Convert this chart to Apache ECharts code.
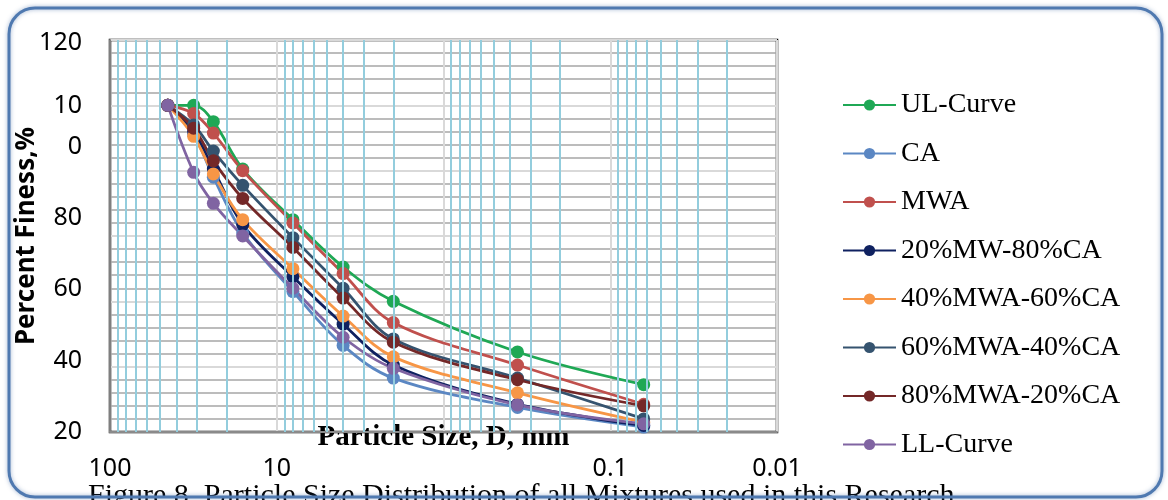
<!DOCTYPE html>
<html>
<head>
<meta charset="utf-8">
<script src="https://cdn.jsdelivr.net/npm/echarts@6/dist/echarts.min.js"></script>
<style>html,body{margin:0;padding:0;background:#fff}#c{width:1168px;height:500px}</style>
</head>
<body>
<div id="c"></div>
<script>
// ---- data ----
const sieveSizes = [45, 31.5, 24, 16, 8, 4, 2, 0.36, 0.063];
const ulCurve = [100, 100, 95, 80.5, 65, 50.5, 40, 24.5, 14.5];
const caValues = [100, 91, 78, 61, 43, 26.5, 16.5, 7.5, 1.5];
const mwaValues = [100, 97.5, 91.5, 80, 64, 48.5, 33.5, 20.5, 8.5];
const mix20 = [100, 92, 80.5, 63.5, 47.5, 33, 20.5, 8.5, 2];
const mix40 = [100, 90.5, 79, 65, 50, 35.5, 23, 12, 3];
const mix60 = [100, 94, 86, 75.5, 59.5, 44, 28.5, 16.5, 4];
const mix80 = [100, 93, 83, 71.5, 56.5, 41, 27.5, 16, 8];
const llCurve = [100, 79.5, 70, 60, 44, 29, 19.5, 8.3, 2.5];
const seriesNames = ['UL-Curve', 'CA', 'MWA', '20%MW-80%CA', '40%MWA-60%CA', '60%MWA-40%CA', '80%MWA-20%CA', 'LL-Curve'];
const xTickValues = [100, 10, 1, 0.1, 0.01];
const xTickLabels = ['100', '10', '', '0.1', '0.01'];
const yTickValues = [20, 40, 60, 80, 100, 120];
const yTickLabels = ['20', '40', '60', '80', '10\n0', '120'];
const minorGridX = [90, 80, 70, 60, 50, 40, 30, 20, 9, 8, 7, 6, 5, 4, 3, 2, 0.9, 0.8, 0.7, 0.6, 0.5, 0.4, 0.3, 0.2, 0.09, 0.08, 0.07, 0.06, 0.05, 0.04, 0.03, 0.02];
const caption = 'Figure 8. Particle Size Distribution of all Mixtures used in this Research';

// ---- styles ----
const colors = ['#1fa855', '#5b87c3', '#c0504d', '#0f2160', '#f79646', '#35536f', '#742828', '#8064a2'];
const allValues = [ulCurve, caValues, mwaValues, mix20, mix40, mix60, mix80, llCurve];

const chart = echarts.init(document.getElementById('c'));

const dataSeries = seriesNames.map((name, k) => ({
  name: name,
  type: 'line',
  xAxisIndex: 0,
  yAxisIndex: 0,
  smooth: 0.35,
  symbol: 'circle',
  symbolSize: 13,
  z: 3,
  color: colors[k],
  lineStyle: { width: 2.8, color: colors[k] },
  itemStyle: { color: colors[k] },
  data: sieveSizes.map((s, i) => [s, allValues[k][i]])
}));

const gridSeries = {
  name: 'minorGrid',
  type: 'line',
  xAxisIndex: 0,
  yAxisIndex: 0,
  data: [],
  z: 1,
  silent: true,
  markLine: {
    silent: true,
    symbol: ['none', 'none'],
    label: { show: false },
    animation: false,
    lineStyle: { color: '#93cddd', width: 2, type: 'solid' },
    emphasis: { disabled: true },
    data: minorGridX.map(v => ({ xAxis: v }))
  }
};

function xLabel(v) {
  const i = xTickValues.findIndex(t => Math.abs(Math.log10(t) - Math.log10(v)) < 1e-6);
  return i >= 0 ? xTickLabels[i] : '';
}
function yLabel(v) {
  const i = yTickValues.findIndex(t => Math.abs(t - v) < 1e-6);
  if (i < 0) return '';
  const t = yTickLabels[i];
  if (v === 120) return '{hi|' + t + '}\n{hi| }';
  if (t.indexOf('\n') >= 0) return t.split('\n').map(s => '{mid|' + s + '}').join('\n') + '\n{mid| }';
  return '{n|' + t + '}';
}

const option = {
  animation: false,
  backgroundColor: '#ffffff',
  grid: {
    left: 110, right: 391, top: 40, bottom: 68,
    containLabel: false,
    outerBoundsMode: 'none',
    show: true, borderColor: '#000000', borderWidth: 2.5, backgroundColor: 'transparent'
  },
  legend: {
    orient: 'vertical',
    left: 837,
    top: 85,
    itemWidth: 53,
    itemHeight: 14,
    itemGap: 18.5,
    data: seriesNames,
    textStyle: { fontFamily: 'Liberation Serif', fontSize: 28, color: '#000', lineHeight: 30 }
  },
  xAxis: [{
    type: 'log',
    logBase: 10,
    min: 0.01,
    max: 100,
    inverse: true,
    name: 'Particle Size, D, mm',
    nameLocation: 'middle',
    nameGap: -9,
    nameMoveOverlap: false,
    nameTextStyle: { fontFamily: 'Liberation Serif', fontWeight: 'bold', fontSize: 29, color: '#000' },
    axisLine: { show: true, lineStyle: { color: '#8a8a8a', width: 2 } },
    axisTick: { show: false },
    axisLabel: { formatter: xLabel, fontFamily: 'Noto Sans', fontSize: 25, color: '#000', margin: 24 },
    splitLine: { show: true, lineStyle: { color: '#d9d9d9', width: 2 } }
  }],
  yAxis: [{
    type: 'value',
    min: 0,
    max: 120,
    interval: 20,
    name: 'Percent Finess,%',
    nameLocation: 'middle',
    nameGap: 70,
    nameMoveOverlap: false,
    nameTextStyle: { fontFamily: 'Noto Sans', fontWeight: 'bold', fontSize: 26, color: '#000' },
    axisLine: { show: true, lineStyle: { color: '#7f7f7f', width: 2 } },
    axisTick: { show: false },
    axisLabel: { show: false },
    splitLine: { show: true, lineStyle: { color: '#d9d9d9', width: 2 } },
    minorTick: { show: false, splitNumber: 5 },
    minorSplitLine: { show: true, lineStyle: { color: '#a6a6a6', width: 1.5 } }
  }, {
    type: 'value',
    position: 'left',
    min: 20,
    max: 129.9,
    interval: 20,
    axisLine: { show: false },
    axisTick: { show: false },
    splitLine: { show: false },
    axisLabel: {
      formatter: yLabel,
      margin: 28,
      color: '#000',
      fontFamily: 'Noto Sans',
      fontSize: 25,
      rich: {
        n: { fontFamily: 'Noto Sans', fontSize: 25, color: '#000' },
        hi: { fontFamily: 'Noto Sans', fontSize: 25, color: '#000', lineHeight: 64 },
        mid: { fontFamily: 'Noto Sans', fontSize: 25, color: '#000', lineHeight: 41 }
      }
    }
  }],
  series: [gridSeries].concat(dataSeries),
  graphic: [
    {
      type: 'text', left: 88, top: 481, z: 50, silent: true,
      style: { text: caption, fontFamily: 'Liberation Serif', fontSize: 30, fill: '#000' }
    },
    {
      type: 'rect', z: 100, silent: true,
      shape: { x: 9, y: 8, width: 1153, height: 489, r: 26 },
      style: { fill: 'none', stroke: '#4f79b0', lineWidth: 3, shadowBlur: 4, shadowColor: 'rgba(60,100,160,0.5)' }
    }
  ]
};
chart.setOption(option);
</script>
</body>
</html>
